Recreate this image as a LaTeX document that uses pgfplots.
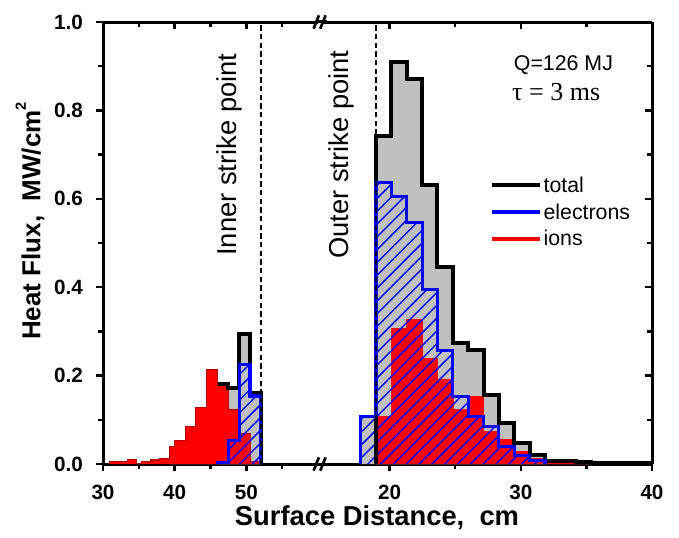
\documentclass[border=0pt]{standalone}
\usepackage{pgfplots}
\usepackage{pgfplotstable}
\pgfplotsset{compat=1.18}
\usepackage{fontspec}
\setmainfont{Liberation Sans}
\newfontfamily\timesfont{Liberation Serif}
\usetikzlibrary{patterns.meta}
\definecolor{fillgray}{RGB}{192,192,192}

% ---- data: step outlines (x, heat flux) ----
\pgfplotstableread[row sep=\\]{x y\\
39.25 0\\ 39.25 0.039\\ 39.96 0.039\\ 39.96 0.054\\ 41.47 0.054\\ 41.47 0.084\\ 42.97 0.084\\ 42.97 0.128\\ 44.48 0.128\\ 44.48 0.214\\ 45.99 0.214\\ 45.99 0.181\\ 47.5 0.181\\ 47.5 0.172\\ 49.0 0.172\\ 49.0 0.294\\ 50.52 0.294\\ 50.52 0.16\\ 52.03 0.16\\ 52.03 0\\
}\lefttot
\pgfplotstableread[row sep=\\]{x y\\
45.99 0.181\\ 47.5 0.181\\ 47.5 0.172\\ 49.0 0.172\\ 49.0 0.294\\ 50.52 0.294\\ 50.52 0.16\\ 52.03 0.16\\ 52.03 0\\
}\lefttotline
\pgfplotstableread[row sep=\\]{x y\\
45.99 0\\ 45.99 0.003\\ 47.5 0.003\\ 47.5 0.054\\ 49.0 0.054\\ 49.0 0.226\\ 50.52 0.226\\ 50.52 0.154\\ 52.03 0.154\\ 52.03 0\\
}\leftel
\pgfplotstableread[row sep=\\]{x y\\
30.9 0\\ 30.9 0.006\\ 33.4 0.006\\ 33.4 0.011\\ 34.7 0.011\\ 34.7 0.002\\ 35.4 0.002\\ 35.4 0.006\\ 36.7 0.006\\ 36.7 0.009\\ 37.9 0.009\\ 37.9 0.012\\ 39.25 0.012\\ 39.25 0.039\\ 39.96 0.039\\ 39.96 0.054\\ 41.47 0.054\\ 41.47 0.084\\ 42.97 0.084\\ 42.97 0.128\\ 44.48 0.128\\ 44.48 0.214\\ 45.99 0.214\\ 45.99 0.181\\ 47.5 0.181\\ 47.5 0.124\\ 49.0 0.124\\ 49.0 0.07\\ 50.52 0.07\\ 50.52 0.005\\ 52.03 0.005\\ 52.03 0\\
}\leftion
\pgfplotstableread[row sep=\\]{x y\\
18.97 0\\ 18.97 0.742\\ 20.14 0.742\\ 20.14 0.910\\ 21.31 0.910\\ 21.31 0.870\\ 22.48 0.870\\ 22.48 0.631\\ 23.65 0.631\\ 23.65 0.446\\ 24.82 0.446\\ 24.82 0.273\\ 25.99 0.273\\ 25.99 0.259\\ 27.16 0.259\\ 27.16 0.156\\ 28.33 0.156\\ 28.33 0.092\\ 29.5 0.092\\ 29.5 0.047\\ 30.67 0.047\\ 30.67 0.02\\ 31.84 0.02\\ 31.84 0.006\\ 33.01 0.006\\ 33.01 0.007\\ 34.18 0.007\\ 34.18 0.004\\ 35.35 0.004\\ 35.35 0.003\\ 40 0.003\\ 40 0\\
}\righttot
\pgfplotstableread[row sep=\\]{x y\\
17.8 0\\ 17.8 0.107\\ 18.97 0.107\\ 18.97 0.636\\ 20.14 0.636\\ 20.14 0.605\\ 21.31 0.605\\ 21.31 0.546\\ 22.48 0.546\\ 22.48 0.394\\ 23.65 0.394\\ 23.65 0.256\\ 24.82 0.256\\ 24.82 0.152\\ 25.99 0.152\\ 25.99 0.108\\ 27.16 0.108\\ 27.16 0.084\\ 28.33 0.084\\ 28.33 0.039\\ 29.5 0.039\\ 29.5 0.02\\ 30.67 0.02\\ 30.67 0.008\\ 31.84 0.008\\ 31.84 0\\
}\rightel
\pgfplotstableread[row sep=\\]{x y\\
18.97 0\\ 18.97 0.106\\ 20.14 0.106\\ 20.14 0.307\\ 21.31 0.307\\ 21.31 0.326\\ 22.48 0.326\\ 22.48 0.237\\ 23.65 0.237\\ 23.65 0.19\\ 24.82 0.19\\ 24.82 0.122\\ 25.99 0.122\\ 25.99 0.152\\ 27.16 0.152\\ 27.16 0.072\\ 28.33 0.072\\ 28.33 0.055\\ 29.5 0.055\\ 29.5 0.027\\ 30.67 0.027\\ 30.67 0.012\\ 31.84 0.012\\ 31.84 0.005\\ 33.01 0.005\\ 33.01 0.008\\ 34.18 0.008\\ 34.18 0.004\\ 35.35 0.004\\ 35.35 0.003\\ 40 0.003\\ 40 0\\
}\rightion

\pgfplotsset{
  base/.style={scale only axis, height=331.5pt, ymin=0, ymax=1, clip mode=individual,
    anchor=south west,
    axis line style={-, line width=2.25pt},
    tick style={line width=1.8pt, black},
    major tick length=5.5pt, minor tick length=4pt,
    ticklabel style={font=\bfseries\fontsize{15.5}{15.5}\selectfont},
    xticklabel style={yshift=-7pt},
    yticklabel style={xshift=-6pt},
    /pgf/number format/assume math mode=true,
    ytick={0,0.2,0.4,0.6,0.8,1.0}, minor ytick={0.1,0.3,0.5,0.7,0.9},
    yticklabel style={/pgf/number format/.cd,fixed,fixed zerofill,precision=1},
  },
  totfill/.style={sharp plot, fill=fillgray, draw=none, forget plot},
  elhatch/.style={sharp plot, draw=none, forget plot,
    pattern={Lines[angle=45,distance=6.8pt,line width=1.1pt]}, pattern color=blue},
  ionfill/.style={sharp plot, fill=red, draw=red, line width=1.2pt, forget plot},
  ionfilldark/.style={sharp plot, fill=red, draw=red!70!black, line width=0.8pt, forget plot},
  totline/.style={sharp plot, draw=black, line width=3pt, forget plot},
  elline/.style={sharp plot, draw=blue, line width=2.4pt, forget plot},
  spline/.style={black, line width=1.5pt, dash pattern=on 4pt off 2.5pt, forget plot},
}

\begin{document}
\begin{tikzpicture}
\path[use as bounding box] (0,0) rectangle (509.25pt,402.75pt);

% ---------------- left panel (inner) ----------------
\begin{axis}[base, at={(77.25pt,54.75pt)}, width=161.25pt,
  xmin=30, xmax=60, xtick={30,40,50}, minor xtick={35,45,55},
  axis x line*=bottom, axis y line*=left, tick align=outside]
\addplot[totfill] table {\lefttot};
\addplot[totfill] table {\leftel};
\addplot[ionfilldark] table {\leftion};
\addplot[elhatch] table {\leftel};
\addplot[totline] table {\lefttotline};
\addplot[elline] table {\leftel};
\addplot[spline] coordinates {(52.0,0)(52.0,1)};
\node[rotate=90, font=\fontsize{20.5}{20.5}\selectfont] at (axis cs:47.7,0.70) {Inner strike point};
\end{axis}
\begin{axis}[base, at={(77.25pt,54.75pt)}, width=161.25pt,
  xmin=30, xmax=60, xtick={30,40,50}, minor xtick={35,45,55},
  axis x line*=top, axis y line=none, tick align=inside, xticklabels={}, ytick=\empty, minor ytick={}]
\addplot[draw=none, forget plot] coordinates {(30,0)};
\end{axis}

% ---------------- right panel (outer) ----------------
\begin{axis}[base, at={(243pt,54.75pt)}, width=246pt,
  xmin=15, xmax=40, xtick={20,30,40}, minor xtick={25,35},
  axis x line*=bottom, axis y line=none, tick align=outside,
  legend style={at={(axis cs:27.6,0.655)}, anchor=north west, draw=none, fill=none,
    font=\fontsize{16}{16}\selectfont, row sep=4pt, inner sep=0pt,
    nodes={inner sep=1.5pt}},
  legend cell align=left,
  legend image code/.code={\draw[#1, line width=3pt] (0pt,0pt) -- (36pt,0pt);}]
\addlegendimage{black}
\addlegendentry{total}
\addlegendimage{blue}
\addlegendentry{electrons}
\addlegendimage{red}
\addlegendentry{ions}
\addplot[totfill] table {\righttot};
\addplot[totfill] table {\rightel};
\addplot[ionfill] table {\rightion};
\addplot[elhatch] table {\rightel};
\addplot[totline] table {\righttot};
\addplot[elline] table {\rightel};
\addplot[spline] coordinates {(18.97,0)(18.97,1)};
\node[rotate=90, font=\fontsize{20.5}{20.5}\selectfont] at (axis cs:16.35,0.70) {Outer strike point};
\node[font=\fontsize{16}{16}\selectfont] at (axis cs:33.25,0.903) {Q=126 MJ};
\node[font=\timesfont\fontsize{19.5}{19.5}\selectfont] at (axis cs:32.7,0.842) {τ = 3 ms};
\end{axis}
\begin{axis}[base, at={(243pt,54.75pt)}, width=246pt,
  xmin=15, xmax=40, xtick={20,30,40}, minor xtick={25,35},
  axis x line*=top, axis y line*=right, tick align=inside, xticklabels={}, yticklabels={}]
\addplot[draw=none, forget plot] coordinates {(20,0)};
\end{axis}

% ---------------- axis break ----------------
\draw[line width=2.25pt] (237pt,54.75pt) -- (245pt,54.75pt);
\draw[line width=2.25pt] (237pt,386.25pt) -- (245pt,386.25pt);
\foreach \yy in {54.75pt,386.25pt}{
  \draw[line width=2pt] (235.2pt,\yy-5pt) -- (239.2pt,\yy+5pt);
  \draw[line width=2pt] (240.2pt,\yy-5pt) -- (244.2pt,\yy+5pt);
}

% ---------------- axis labels ----------------
\node[font=\bfseries\fontsize{20.5}{20.5}\selectfont] at (282.75pt,14.25pt) {Surface Distance,\ \ cm};
\node[rotate=90, font=\bfseries\fontsize{19.5}{19.5}\selectfont] at (22.5pt,237pt) {Heat Flux,\ \ MW/cm\raisebox{0.55em}{\fontsize{11}{11}\selectfont 2}};
\end{tikzpicture}
\end{document}
